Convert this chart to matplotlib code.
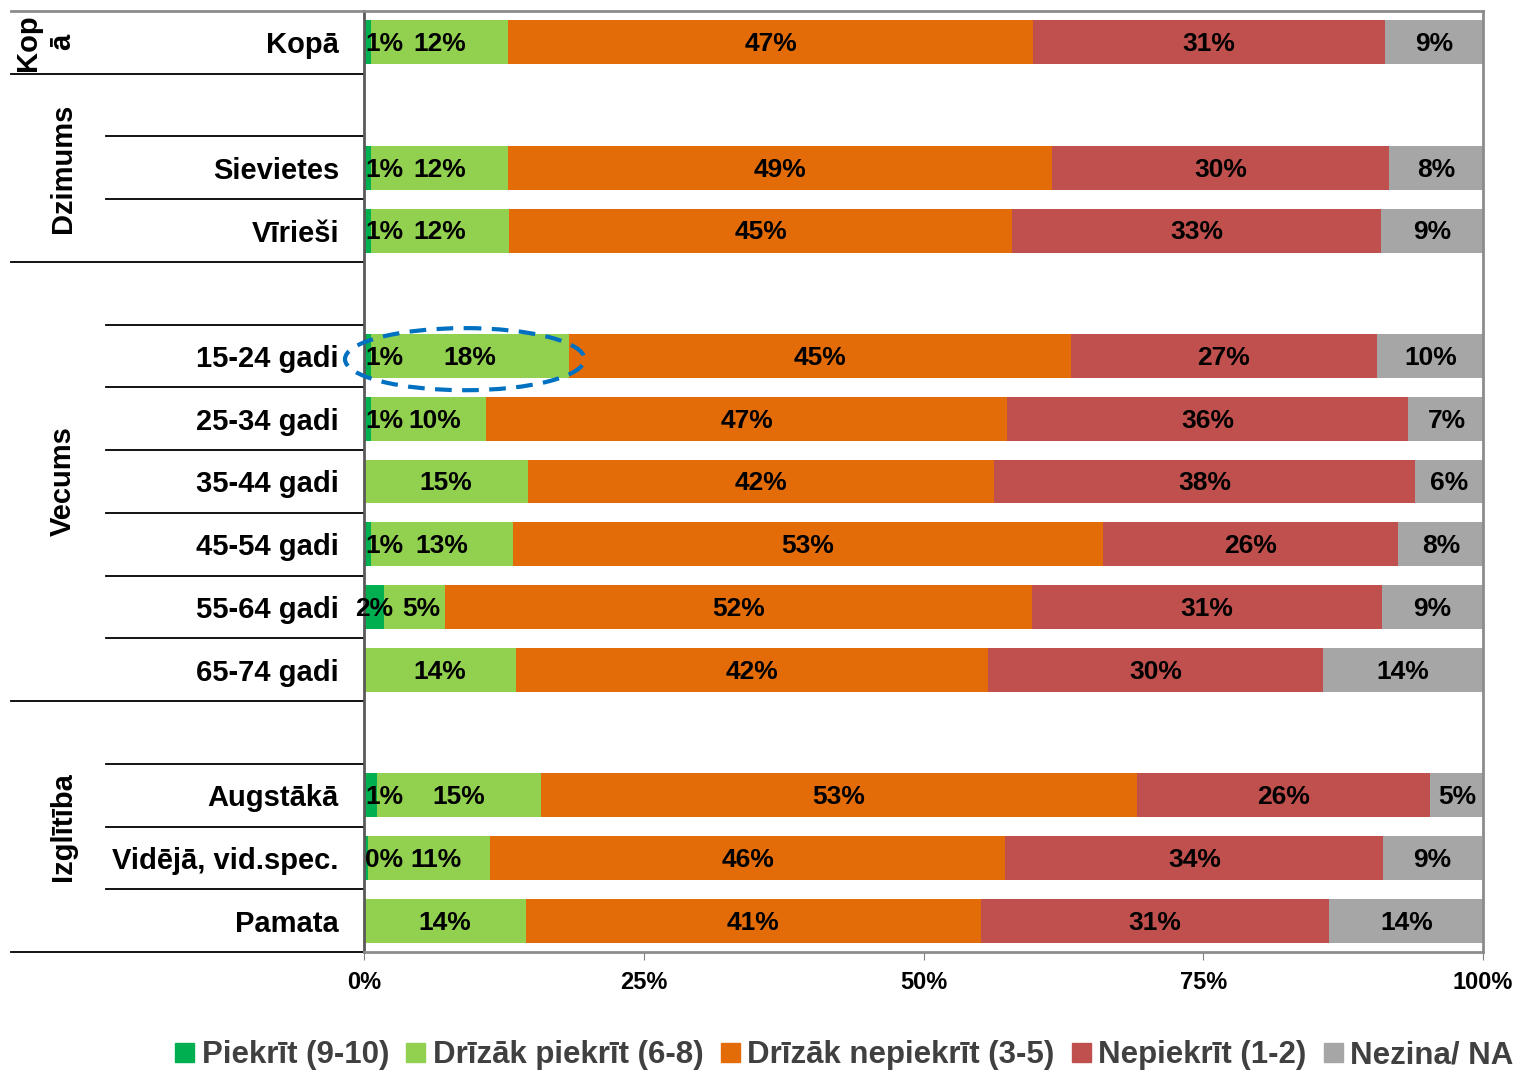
import matplotlib.pyplot as plt
from matplotlib.patches import Ellipse
import matplotlib.transforms as mtransforms

plt.rcParams['font.family'] = ['Liberation Sans', 'DejaVu Sans']
plt.rcParams['font.weight'] = 'bold'

# Rows top to bottom; empty strings are group header rows
rows = ['Kopā', '', 'Sievietes', 'Vīrieši', '',
        '15-24 gadi', '25-34 gadi', '35-44 gadi', '45-54 gadi', '55-64 gadi', '65-74 gadi', '',
        'Augstākā', 'Vidējā, vid.spec.', 'Pamata']

series = ['Piekrīt (9-10)', 'Drīzāk piekrīt (6-8)', 'Drīzāk nepiekrīt (3-5)', 'Nepiekrīt (1-2)', 'Nezina/ NA']
colors = ['#00b050', '#92d050', '#e36c09', '#c0504d', '#a6a6a6']

# percent values per row (None = empty header row)
piekrit =      [0.6, None, 0.6, 0.6, None, 0.6, 0.6, 0.0, 0.6, 1.8, 0.0, None, 1.2, 0.4, 0.0]
drizak_piek =  [12.3, None, 12.3, 12.4, None, 17.7, 10.3, 14.7, 12.7, 5.4, 13.6, None, 14.6, 10.9, 14.5]
drizak_nepi =  [46.9, None, 48.6, 44.9, None, 44.9, 46.6, 41.6, 52.7, 52.5, 42.2, None, 53.3, 46.0, 40.6]
nepiekrit =    [31.4, None, 30.1, 33.0, None, 27.3, 35.8, 37.6, 26.4, 31.3, 29.9, None, 26.2, 33.8, 31.1]
nezina =       [8.8, None, 8.4, 9.1, None, 9.7, 6.9, 6.2, 7.7, 9.0, 14.3, None, 4.8, 8.8, 13.9]

groups = [('Kop\nā', 0, 0), ('Dzimums', 1, 3), ('Vecums', 4, 10), ('Izglītība', 11, 14)]
xticks = [0, 25, 50, 75, 100]

fig = plt.figure(figsize=(15.19, 10.71), dpi=100)
ax = fig.add_axes([364 / 1519, 1 - 952 / 1071, 1119 / 1519, 941 / 1071])

data = [piekrit, drizak_piek, drizak_nepi, nepiekrit, nezina]
for i, row in enumerate(rows):
    if row == '':
        continue
    left = 0
    for s, vals in enumerate(data):
        v = vals[i]
        if v > 0:
            ax.barh(i, v, left=left, height=0.7, color=colors[s], edgecolor='none')
            if s == 0 and v < 1.5:
                # tiny segment: label sits just right of it
                tx = 1.8
            elif s == 1 and vals is drizak_piek and data[0][i] > 0 and v < 11.5:
                tx = left + v / 2 + 0.6
            else:
                tx = left + v / 2
            ax.text(tx, i + 0.03, f'{round(v)}%', ha='center', va='center',
                    fontsize=19, fontweight='bold', color='black')
        left += v

ax.set_xlim(0, 100)
ax.set_ylim(14.5, -0.5)
ax.set_xticks(xticks)
ax.set_xticklabels([f'{t}%' for t in xticks], fontsize=17, fontweight='bold')
ax.tick_params(axis='x', length=6, color='#808080', pad=8)
ax.set_yticks(range(len(rows)))
ax.set_yticklabels(rows, fontsize=21, fontweight='bold')
ax.tick_params(axis='y', length=0, pad=18)
for sp in ax.spines.values():
    sp.set_color('#8c8c8c')
    sp.set_linewidth(2)
ax.spines['left'].set_color('#595959')

# separator lines on the left side
trans = mtransforms.blended_transform_factory(ax.transAxes, ax.transData)
x_long = (11 - 364) / 1119
x_short = (106 - 364) / 1119
ax.plot([x_long, 0], [-0.5, -0.5], transform=trans, color='#8c8c8c', lw=2, clip_on=False)
group_ends = [g[2] for g in groups]
for b in range(len(rows)):
    y = b + 0.5
    xs = x_long if b in group_ends else x_short
    ax.plot([xs, 0], [y, y], transform=trans, color='black', lw=1.3, clip_on=False)

for name, a, b in groups:
    gx = 45 if '\n' in name else 63
    ax.text((gx - 364) / 1119, (a + b) / 2, name, transform=trans, rotation=90,
            ha='center', va='center', multialignment='center',
            fontsize=21, fontweight='bold', linespacing=1.25)

# dashed highlight around 15-24 gadi
ell = Ellipse((9.0, 5.05), 21.4, 0.99, fill=False, edgecolor='#0070c0', lw=3,
              linestyle=(0, (4, 2.5)), clip_on=False, zorder=5)
ax.add_patch(ell)

handles = [plt.Rectangle((0, 0), 1, 1, color=c) for c in colors]
leg = fig.legend(handles, series, loc='center', bbox_to_anchor=(0.556, 0.0145), ncol=5,
                 frameon=False, fontsize=22.5, handlelength=0.6, handleheight=0.6,
                 handletextpad=0.25, columnspacing=0.55, borderaxespad=0)
for t in leg.get_texts():
    t.set_color('#404040')
    t.set_fontweight('bold')

fig.savefig('out.png', dpi=100)
